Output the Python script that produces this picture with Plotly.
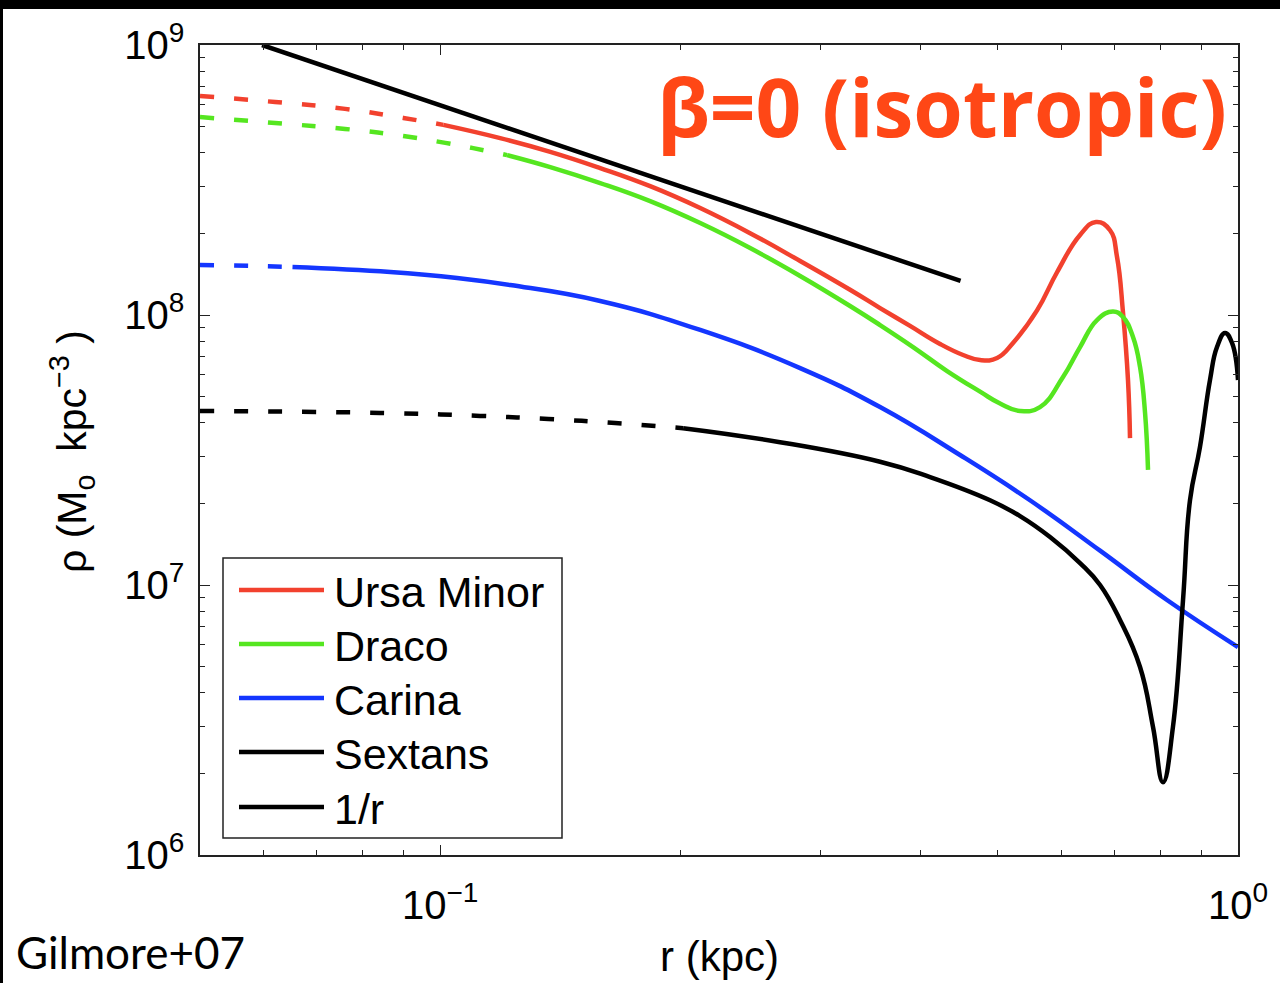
import plotly.graph_objects as go

# ---- density profiles rho(r) [M_sun kpc^-3], r in kpc ----
# inner extrapolations (dashed) and constrained range (solid)
umi_r_in = [0.0500, 0.0621, 0.0760, 0.0899, 0.1009]
umi_rho_in = [6.47e8, 6.15e8, 5.80e8, 5.37e8, 5.06e8]
umi_r = [0.1009, 0.1189, 0.1374, 0.1587, 0.1833, 0.2118, 0.2446, 0.2826, 0.3264,
         0.3559, 0.3881, 0.4232, 0.4523, 0.4750, 0.4989, 0.5224, 0.5599, 0.5932,
         0.6339, 0.6638, 0.6912, 0.7053, 0.7176, 0.7280, 0.7322]
umi_rho = [5.06e8, 4.52e8, 4.02e8, 3.50e8, 3.00e8, 2.49e8, 2.01e8, 1.585e8, 1.24e8,
           1.061e8, 9.11e7, 7.81e7, 7.11e7, 6.81e7, 6.93e7, 7.88e7, 1.04e8, 1.44e8,
           1.98e8, 2.21e8, 2.06e8, 1.64e8, 1.02e8, 5.74e7, 3.50e7]

dra_r_in = [0.0500, 0.0621, 0.0760, 0.0899, 0.1015, 0.1100, 0.1213]
dra_rho_in = [5.41e8, 5.14e8, 4.89e8, 4.60e8, 4.34e8, 4.15e8, 3.91e8]
dra_r = [0.1213, 0.1374, 0.1587, 0.1833, 0.2118, 0.2446, 0.2826, 0.3264, 0.3559,
         0.3915, 0.4319, 0.4750, 0.5032, 0.5331, 0.5647, 0.6035, 0.6339, 0.6657,
         0.6972, 0.7176, 0.7386, 0.7537, 0.7647, 0.7713]
dra_rho = [3.91e8, 3.53e8, 3.08e8, 2.64e8, 2.19e8, 1.77e8, 1.395e8, 1.08e8, 9.18e7,
           7.61e7, 6.20e7, 5.20e7, 4.70e7, 4.41e7, 4.56e7, 5.89e7, 7.61e7, 9.58e7,
           1.03e8, 9.83e7, 8.29e7, 6.42e7, 4.34e7, 2.67e7]

car_r_in = [0.0500, 0.0580, 0.0653]
car_rho_in = [1.532e8, 1.520e8, 1.506e8]
car_r = [0.0653, 0.0866, 0.1050, 0.1224, 0.1587, 0.2118, 0.2826, 0.3559, 0.4483,
         0.5486, 0.6716, 0.8147, 1.0]
car_rho = [1.506e8, 1.443e8, 1.371e8, 1.291e8, 1.127e8, 8.80e7, 6.36e7, 4.56e7,
           3.03e7, 2.06e7, 1.34e7, 8.80e6, 5.89e6]

sex_r_in = [0.0500, 0.0841, 0.1122, 0.1366, 0.1657, 0.2016]
sex_rho_in = [4.41e7, 4.34e7, 4.23e7, 4.12e7, 3.98e7, 3.81e7]
sex_r = [0.2016, 0.2667, 0.3559, 0.4112, 0.4889, 0.5331, 0.5813, 0.6339, 0.6716,
         0.7114, 0.7537, 0.7825, 0.8053, 0.8288, 0.8533, 0.8706, 0.8960, 0.9223,
         0.9412, 0.9632, 0.9829, 1.0]
sex_rho = [3.81e7, 3.38e7, 2.86e7, 2.51e7, 2.06e7, 1.80e7, 1.506e7, 1.206e7, 1.0e7,
           7.42e6, 4.97e6, 2.98e6, 1.86e6, 2.98e6, 8.80e6, 2.06e7, 3.24e7, 5.74e7,
           7.61e7, 8.58e7, 7.88e7, 5.74e7]

# reference cusp slope rho ~ 1/r
cusp_r = [0.0598, 0.449]
cusp_rho = [1.0e9, 1.337e8]

names = ["Ursa Minor", "Draco", "Carina", "Sextans", "1/r"]
colors = ["#F2412E", "#55E620", "#1436FF", "#000000", "#000000"]

LW = 4.5
DASH = "14px,20px"
SMOOTH = 1.3

fig = go.Figure()

series = [
    (umi_r_in, umi_rho_in, umi_r, umi_rho, colors[0]),
    (dra_r_in, dra_rho_in, dra_r, dra_rho, colors[1]),
    (car_r_in, car_rho_in, car_r, car_rho, colors[2]),
    (sex_r_in, sex_rho_in, sex_r, sex_rho, colors[3]),
]
for r_in, rho_in, r_out, rho_out, c in series:
    fig.add_trace(go.Scatter(x=r_in, y=rho_in, mode="lines", showlegend=False,
                             line=dict(color=c, width=LW, dash=DASH, shape="spline", smoothing=SMOOTH)))
    fig.add_trace(go.Scatter(x=r_out, y=rho_out, mode="lines", showlegend=False,
                             line=dict(color=c, width=LW, shape="spline", smoothing=SMOOTH)))

fig.add_trace(go.Scatter(x=cusp_r, y=cusp_rho, mode="lines", showlegend=False,
                         line=dict(color=colors[4], width=LW)))

AX = "#222222"
TICKFONT = dict(family="Liberation Sans", size=40, color="black")

# pixel -> paper helpers for layout decorations
L, R, T, B, W, H = 200, 42, 45, 128, 1280, 983
PW, PH = W - L - R, H - T - B


def px(x):
    return (x - L) / PW


def py(y):
    return (H - B - y) / PH


fig.update_xaxes(type="log", range=[-1.30103, 0],
                 tickvals=[0.1, 1], ticktext=["10<sup>−1</sup>", "10<sup>0</sup>"],
                 showline=True, linecolor=AX, linewidth=1.5, mirror="ticks",
                 ticks="inside", ticklen=10, tickwidth=1.2, tickcolor=AX,
                 minor=dict(ticks="inside", ticklen=5, tickwidth=1.2, tickcolor=AX,
                            dtick="D1", showgrid=False),
                 showgrid=False, zeroline=False, tickfont=TICKFONT,
                 ticklabelstandoff=14)
fig.update_yaxes(type="log", range=[6, 9],
                 tickvals=[1e6, 1e7, 1e8, 1e9],
                 ticktext=["10<sup>6</sup>", "10<sup>7</sup>", "10<sup>8</sup>", "10<sup>9</sup>"],
                 showline=True, linecolor=AX, linewidth=1.5, mirror="ticks",
                 ticks="inside", ticklen=10, tickwidth=1.2, tickcolor=AX,
                 minor=dict(ticks="inside", ticklen=5, tickwidth=1.2, tickcolor=AX,
                            dtick="D1", showgrid=False),
                 showgrid=False, zeroline=False, tickfont=TICKFONT,
                 ticklabelstandoff=6)

shapes = []
annotations = []

# legend box drawn by hand
shapes.append(dict(type="rect", xref="paper", yref="paper",
                   x0=px(223), x1=px(562), y0=py(838), y1=py(558),
                   line=dict(color="#222222", width=1.5), fillcolor="white", layer="above"))
entry_y = [590, 644, 698, 752, 807]
for name, c, yy in zip(names, colors, entry_y):
    shapes.append(dict(type="line", xref="paper", yref="paper",
                       x0=px(239), x1=px(324), y0=py(yy), y1=py(yy),
                       line=dict(color=c, width=LW), layer="above"))
    annotations.append(dict(text=name, xref="paper", yref="paper",
                            x=px(332), y=py(yy + 2), xanchor="left", yanchor="middle",
                            showarrow=False,
                            font=dict(family="Liberation Sans", size=43, color="black")))

# frame bands along the top and left edges
shapes.append(dict(type="rect", xref="paper", yref="paper", x0=-0.3, x1=1.2,
                   y0=py(9), y1=py(-20), line=dict(width=0), fillcolor="black", layer="above"))
shapes.append(dict(type="rect", xref="paper", yref="paper", x0=px(-20), x1=px(3),
                   y0=-0.3, y1=1.2, line=dict(width=0), fillcolor="black", layer="above"))

# axis titles
annotations.append(dict(text="r (kpc)", xref="paper", yref="paper", x=0.5, y=py(956),
                        xanchor="center", yanchor="middle", showarrow=False,
                        font=dict(family="Liberation Sans", size=42, color="black")))
annotations.append(dict(text="ρ (M<sub>o</sub>  kpc<sup>−3</sup> )", xref="paper", yref="paper",
                        x=px(72), y=py(452), xanchor="center", yanchor="middle",
                        textangle=-90, showarrow=False,
                        font=dict(family="Liberation Sans", size=41, color="black")))

# panel label and citation
annotations.append(dict(text="<b>β=0 (isotropic)</b>", xref="paper", yref="paper",
                        x=px(1229), y=py(106), xanchor="right", yanchor="middle",
                        showarrow=False,
                        font=dict(family="Open Sans", size=80, color="#FF4716")))
annotations.append(dict(text="Gilmore+07", xref="paper", yref="paper",
                        x=px(14), y=py(952), xanchor="left", yanchor="middle",
                        showarrow=False,
                        font=dict(family="Lato", size=44, color="black")))

fig.update_layout(width=W, height=H, autosize=False,
                  margin=dict(l=L, r=R, t=T, b=B),
                  paper_bgcolor="white", plot_bgcolor="white",
                  showlegend=False, shapes=shapes, annotations=annotations)

fig.write_html("out.html")
